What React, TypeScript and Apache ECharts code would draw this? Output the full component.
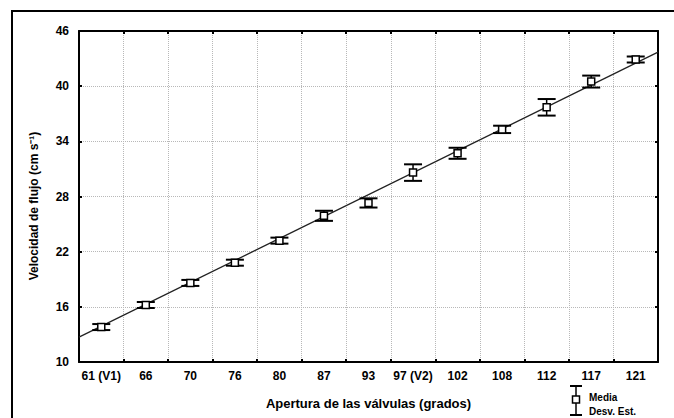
import React, { useEffect, useRef } from "react";
import * as echarts from "echarts";

const categories = ["61 (V1)", "66", "70", "76", "80", "87", "93", "97 (V2)", "102", "108", "112", "117", "121"];
const means = [13.8, 16.2, 18.6, 20.8, 23.2, 25.9, 27.3, 30.6, 32.7, 35.3, 37.7, 40.5, 42.9];
const sds = [0.25, 0.25, 0.3, 0.25, 0.3, 0.55, 0.5, 0.9, 0.6, 0.4, 0.9, 0.65, 0.3];
const fitX = [-0.5, 12.5];
const fitY = [12.7, 43.7];
const yMin = 10;
const yMax = 46;
const yStep = 6;

const FONT = "'Liberation Sans', Arial, sans-serif";

export default function App() {
  const ref = useRef<HTMLDivElement>(null);
  useEffect(() => {
    document.body.style.margin = "0";
    if (!ref.current) return;
    const chart = echarts.init(ref.current, null, { renderer: "svg" });
    const axisLine = { show: true, onZero: false, lineStyle: { color: "#000", width: 2 } };
    const axisTick = { show: true, inside: true, length: 3, lineStyle: { color: "#000", width: 2 } };
    const split = { show: true, lineStyle: { type: "dotted", color: "#b8b8b8", width: 1 } };
    const label = { color: "#000", fontFamily: FONT, fontWeight: "bold", fontSize: 12 };
    const option: any = {
      animation: false,
      backgroundColor: "#fff",
      grid: { left: 79, top: 31, right: 16, bottom: 56, containLabel: false },
      xAxis: [
        {
          type: "category",
          data: categories,
          position: "bottom",
          boundaryGap: true,
          axisLine,
          axisTick: { ...axisTick, interval: 0 },
          axisLabel: { ...label, interval: 0, margin: 8 },
          splitLine: { ...split, interval: 0 },
          name: "Apertura de las válvulas (grados)",
          nameLocation: "middle",
          nameGap: 35,
          nameTextStyle: { color: "#000", fontFamily: FONT, fontWeight: "bold", fontSize: 13 },
        },
        {
          type: "category",
          data: categories,
          position: "top",
          boundaryGap: true,
          axisLine,
          axisTick: { ...axisTick, interval: 0 },
          axisLabel: { show: false },
          splitLine: { show: false },
        },
        { type: "value", min: fitX[0], max: fitX[1], show: false },
      ],
      yAxis: [
        {
          type: "value",
          min: yMin,
          max: yMax,
          interval: yStep,
          position: "left",
          axisLine,
          axisTick,
          axisLabel: { ...label, margin: 10 },
          splitLine: split,
        },
        {
          type: "value",
          min: yMin,
          max: yMax,
          interval: yStep,
          position: "right",
          axisLine,
          axisTick,
          axisLabel: { show: false },
          splitLine: { show: false },
        },
      ],
      graphic: [
        {
          type: "rect",
          silent: true,
          z: -10,
          shape: { x: 12, y: 11, width: 720, height: 460 },
          style: { fill: "none", stroke: "#000", lineWidth: 2 },
        },
        {
          type: "text",
          x: 34,
          y: 206,
          rotation: Math.PI / 2,
          style: {
            text: "Velocidad de flujo (cm s⁻¹)",
            fill: "#000",
            font: `bold 12px ${FONT}`,
            align: "center",
            verticalAlign: "middle",
          },
        },
        {
          type: "group",
          children: [
            { type: "line", shape: { x1: 576, y1: 386, x2: 576, y2: 415 }, style: { stroke: "#000", lineWidth: 1.5 } },
            { type: "line", shape: { x1: 570, y1: 386, x2: 582, y2: 386 }, style: { stroke: "#000", lineWidth: 2 } },
            { type: "line", shape: { x1: 570, y1: 415, x2: 582, y2: 415 }, style: { stroke: "#000", lineWidth: 2 } },
            { type: "rect", shape: { x: 572.5, y: 396, width: 7, height: 7 }, style: { fill: "#fff", stroke: "#000", lineWidth: 1.5 } },
            {
              type: "text",
              x: 589,
              y: 397,
              style: { text: "Media", fill: "#000", font: `bold 10px ${FONT}`, verticalAlign: "middle" },
            },
            {
              type: "text",
              x: 589,
              y: 411,
              style: { text: "Desv. Est.", fill: "#000", font: `bold 10px ${FONT}`, verticalAlign: "middle" },
            },
          ],
        },
      ],
      series: [
        {
          type: "line",
          xAxisIndex: 2,
          yAxisIndex: 0,
          data: fitX.map((x, i) => [x, fitY[i]]),
          symbol: "none",
          lineStyle: { color: "#222", width: 1.3 },
          z: 2,
        },
        {
          type: "custom",
          xAxisIndex: 0,
          yAxisIndex: 0,
          z: 3,
          encode: { x: 0, y: 1 },
          data: means.map((m, i) => [i, m, sds[i]]),
          renderItem: (params: any, api: any) => {
            const i = api.value(0);
            const m = api.value(1);
            const s = api.value(2);
            const c = api.coord([i, m]);
            const top = api.coord([i, m + s]);
            const bot = api.coord([i, m - s]);
            const hw = 9;
            const sq = 3.5;
            const ty = Math.min(top[1], c[1] - 3);
            const by = Math.max(bot[1], c[1] + 3);
            return {
              type: "group",
              children: [
                { type: "line", shape: { x1: c[0], y1: ty, x2: c[0], y2: by }, style: { stroke: "#000", lineWidth: 1.5 } },
                { type: "line", shape: { x1: c[0] - hw, y1: ty, x2: c[0] + hw, y2: ty }, style: { stroke: "#000", lineWidth: 2 } },
                { type: "line", shape: { x1: c[0] - hw, y1: by, x2: c[0] + hw, y2: by }, style: { stroke: "#000", lineWidth: 2 } },
                {
                  type: "rect",
                  shape: { x: c[0] - sq, y: c[1] - sq, width: 2 * sq, height: 2 * sq },
                  style: { fill: "#fff", stroke: "#000", lineWidth: 1.5 },
                },
              ],
            };
          },
        },
      ],
    };
    chart.setOption(option);
    return () => chart.dispose();
  }, []);
  return <div ref={ref} style={{ width: 674, height: 418 }} />;
}
